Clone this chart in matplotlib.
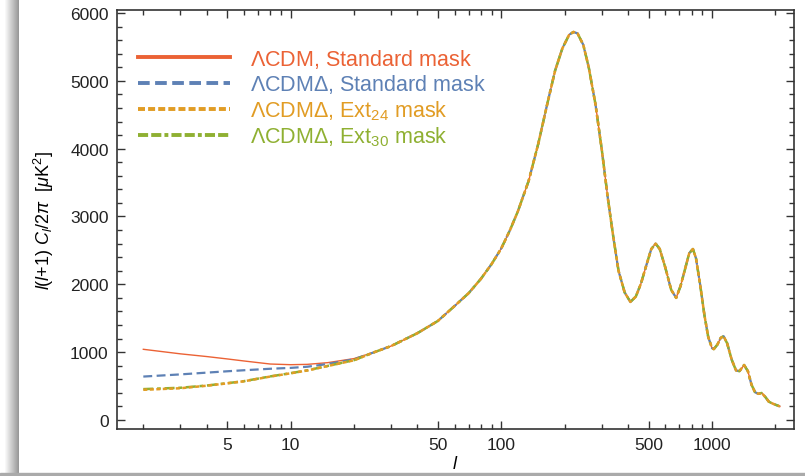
import numpy as np
import matplotlib
matplotlib.use('Agg')
import matplotlib.pyplot as plt
from matplotlib.ticker import FixedLocator, MultipleLocator, NullFormatter, FuncFormatter
from matplotlib.patches import Rectangle

plt.rcParams['font.family'] = ['Liberation Sans', 'DejaVu Sans']
plt.rcParams['mathtext.fontset'] = 'custom'
plt.rcParams['mathtext.rm'] = 'Liberation Sans'
plt.rcParams['mathtext.it'] = 'Liberation Sans:italic'
plt.rcParams['mathtext.bf'] = 'Liberation Sans:bold'

# low multipoles: the four fits differ here
ell_low = [2, 3, 4, 5, 6, 8, 10, 12, 15, 20]
dl_lcdm_std = [1042, 975, 935, 900, 870, 825, 815, 820, 845, 905]
dl_lcdmd_std = [640, 672, 698, 718, 733, 755, 768, 785, 825, 895]
dl_lcdmd_ext24 = [445, 468, 505, 540, 570, 640, 688, 730, 795, 880]
dl_lcdmd_ext30 = [455, 475, 508, 542, 572, 642, 690, 732, 797, 882]

# higher multipoles: all four curves lie on top of each other
ell_high = [25, 30, 40, 50, 60, 70, 80, 90, 100, 110, 120, 135, 150, 165, 180,
            195, 210, 220, 230, 245, 260, 280, 300, 320, 340, 360, 385, 410,
            435, 460, 490, 515, 540, 565, 600, 640, 676, 710, 750, 780, 812,
            840, 880, 920, 960, 1000, 1020, 1060, 1100, 1135, 1180, 1240, 1300,
            1350, 1420, 1480, 1540, 1600, 1660, 1720, 1790, 1860, 1930, 2000, 2100]
dl_high = [1000, 1090, 1280, 1460, 1680, 1870, 2080, 2300, 2530, 2800, 3080,
           3530, 4080, 4650, 5150, 5480, 5680, 5720, 5700, 5530, 5200, 4650,
           3980, 3280, 2700, 2200, 1880, 1740, 1820, 2010, 2300, 2520, 2600,
           2520, 2250, 1920, 1800, 1980, 2260, 2460, 2520, 2380, 1980, 1550,
           1220, 1060, 1045, 1110, 1210, 1235, 1130, 890, 730, 720, 810, 720,
           520, 410, 385, 398, 340, 270, 245, 225, 200]

labels = [r'$\Lambda$CDM, Standard mask',
          r'$\Lambda$CDM$\Delta$, Standard mask',
          r'$\Lambda$CDM$\Delta$, Ext$_{24}$ mask',
          r'$\Lambda$CDM$\Delta$, Ext$_{30}$ mask']
colors = ['#EB6235', '#5E81B5', '#E19C24', '#8FB032']

fig = plt.figure(figsize=(8.05, 4.77), dpi=100)

# window frame with a soft shadow on the left
bg = fig.add_axes([0, 0, 1, 1], zorder=-10)
img = np.ones((477, 805))
shade = np.linspace(1.0, 0.6, 15)
img[:, 4:19] = shade
bg.imshow(img, cmap='gray', vmin=0, vmax=1, aspect='auto', interpolation='nearest')
bg.axis('off')

ax = fig.add_axes([117 / 805, 47 / 477, 677 / 805, 419 / 477])
ax.set_facecolor('white')

ell = np.array(ell_low + ell_high)
series = [dl_lcdm_std, dl_lcdmd_std, dl_lcdmd_ext24, dl_lcdmd_ext30]
styles = ['-', (0, (4, 2)), (0, (1.6, 1.0)), (0, (4, 1.5, 1.5, 1.5))]
widths = [1.0, 1.6, 1.8, 1.8]
zords = [2, 3, 5, 4]
lines = []
for dl_low, c, ls, lw, z, lab in zip(series, colors, styles, widths, zords, labels):
    ln, = ax.plot(ell, np.array(dl_low + dl_high), color=c, ls=ls, lw=lw,
                  zorder=z, label=lab)
    lines.append(ln)

ax.set_xscale('log')
ax.set_xlim(1.5, 2450)
ax.set_ylim(-133, 6044)

ax.xaxis.set_major_locator(FixedLocator([5, 10, 50, 100, 500, 1000]))
ax.xaxis.set_major_formatter(FuncFormatter(lambda v, p: '%d' % v))
minors = [m * 10 ** k for k in range(4) for m in range(2, 10)]
minors = [v for v in minors if v not in (5, 10, 50, 100, 500, 1000)]
ax.xaxis.set_minor_locator(FixedLocator(minors))
ax.xaxis.set_minor_formatter(NullFormatter())
ax.yaxis.set_major_locator(MultipleLocator(1000))
ax.yaxis.set_minor_locator(MultipleLocator(200))

ax.tick_params(which='both', direction='in', top=True, right=True,
               color='#333333', labelcolor='#222222', labelsize=12.5, width=1.0)
ax.tick_params(which='major', length=6, pad=6)
ax.tick_params(which='minor', length=3.5)
for sp in ax.spines.values():
    sp.set_color('#333333')
    sp.set_linewidth(1.2)

ax.set_ylabel(r'$l$($l$+1) $C_l$/2$\pi$  [$\mu$K$^2$]', fontsize=13, labelpad=10)
ax.set_xlabel(r'$l$', fontsize=13, labelpad=2)

leg = ax.legend(loc='upper left', bbox_to_anchor=(0.031, 0.912), frameon=False,
                fontsize=15.5, handlelength=4.28, handletextpad=0.93,
                labelspacing=0.12, borderaxespad=0, borderpad=0,
                labelcolor='linecolor')
leg_dashes = [None, (3, 1.4), (1.8, 0.8), (2.6, 0.8, 2.6, 0.8, 1.0, 0.8)]
for hl, d in zip(leg.get_lines(), leg_dashes):
    hl.set_linewidth(2.8)
    if d is not None:
        hl.set_dashes(d)

# bottom edge of the window frame
fig.add_artist(Rectangle((0, 0), 1, 3.5 / 477, transform=fig.transFigure,
                         color='#aaaaaa', zorder=20))

fig.savefig('out.png', dpi=100)
